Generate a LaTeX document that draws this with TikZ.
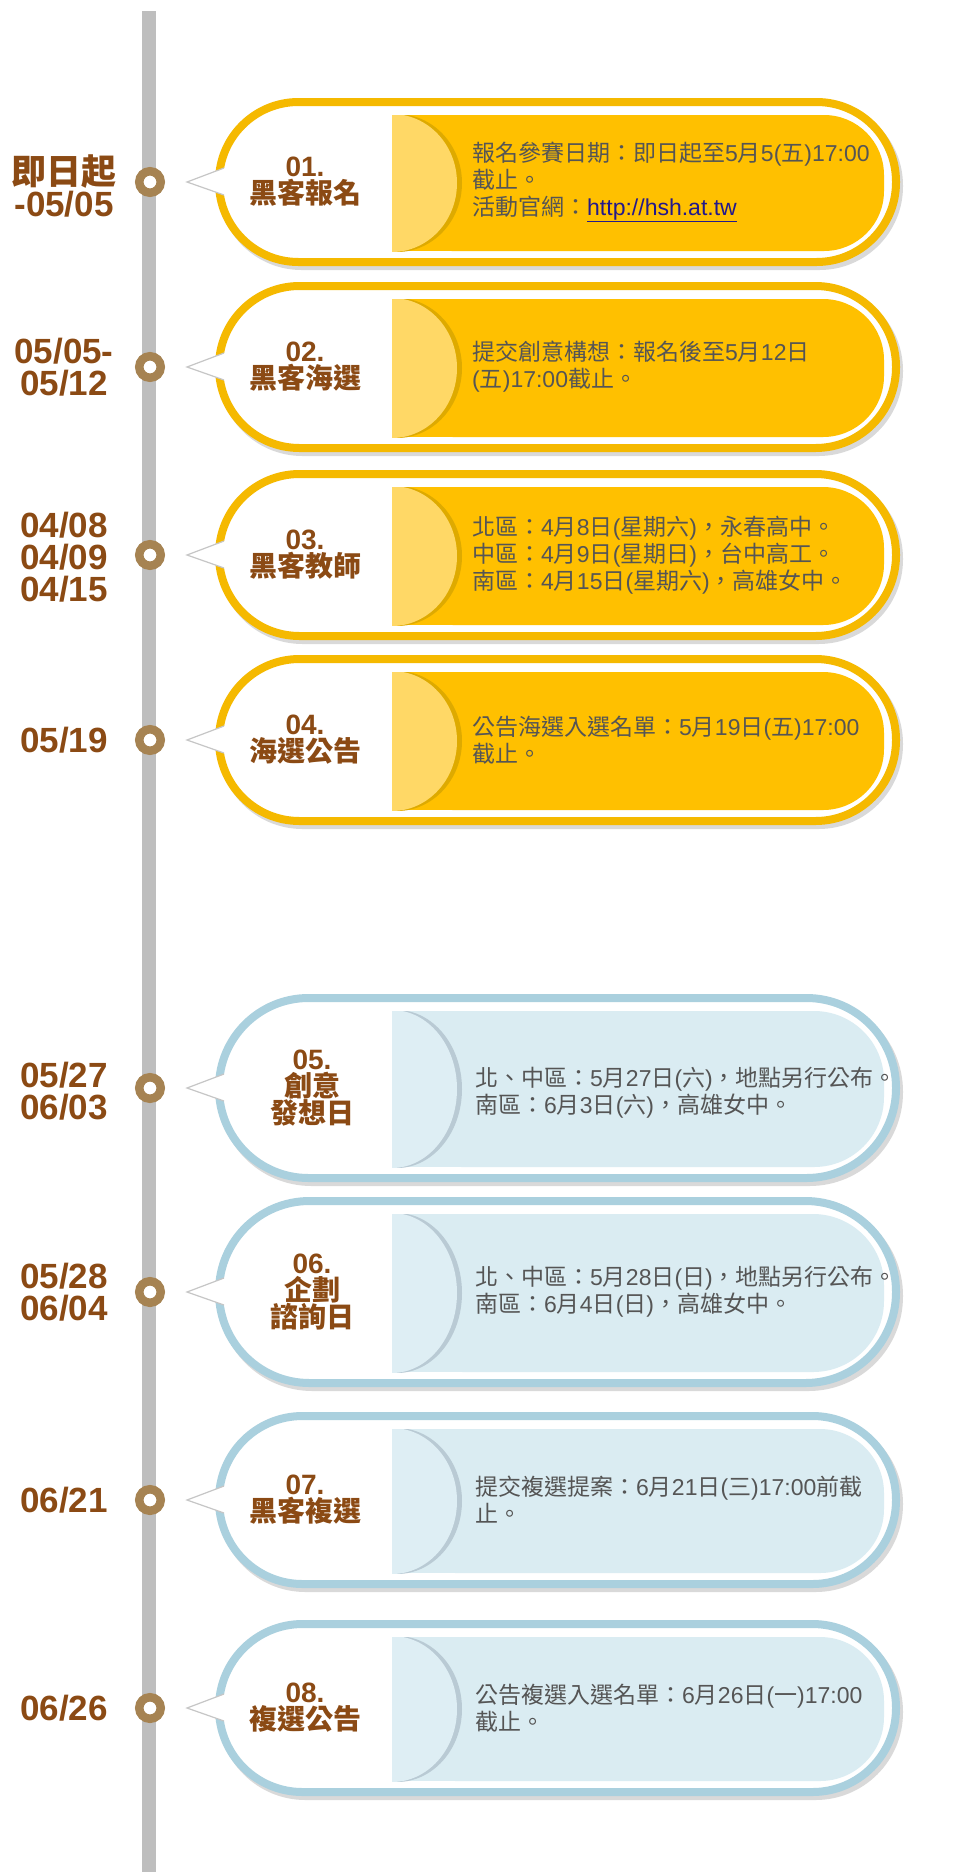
\documentclass[tikz,border=0pt]{standalone}
\usepackage{fontspec}
\setmainfont{Liberation Sans}
\newfontfamily\cjkfont{Noto Sans CJK TC}
\newfontfamily\latfont{Liberation Sans}
% switch to the CJK face for Han characters and full-width punctuation
\newXeTeXintercharclass\CJKclass
\newcount\cjkcode
\def\markcjk#1#2{\cjkcode=#1\relax
    \loop\ifnum\cjkcode<#2\relax
        \XeTeXcharclass\cjkcode=\CJKclass
        \advance\cjkcode by 1
    \repeat}
\markcjk{"3000}{"3040}
\markcjk{"4E00}{"A000}
\markcjk{"FF00}{"FF60}
\XeTeXinterchartokenstate=1
\XeTeXinterchartoks 0 \CJKclass = {\cjkfont}
\XeTeXinterchartoks 4095 \CJKclass = {\cjkfont}
\XeTeXinterchartoks \CJKclass 0 = {\latfont}
\XeTeXinterchartoks \CJKclass 4095 = {\latfont}
\usepackage{tikz}
\usetikzlibrary{positioning}
\definecolor{BarGray}{RGB}{190,190,190}
\definecolor{RingBrown}{RGB}{166,131,82}
\definecolor{LabelBrown}{RGB}{139,74,20}
\definecolor{DescGray}{RGB}{85,85,85}
\definecolor{LinkBlue}{RGB}{35,25,140}
\definecolor{GoldBand}{RGB}{245,185,0}
\definecolor{GoldFill}{RGB}{255,192,0}
\definecolor{GoldDisc}{RGB}{255,216,102}
\definecolor{GoldRim}{RGB}{222,170,0}
\definecolor{SkyBand}{RGB}{170,208,222}
\definecolor{SkyFill}{RGB}{218,236,242}
\definecolor{SkyDisc}{RGB}{222,238,244}
\definecolor{SkyRim}{RGB}{185,202,212}

\begin{document}
\begin{tikzpicture}[
        x=1pt, y=-1pt,
        datelbl/.style={align=center, inner sep=0pt, text=LabelBrown,
            font=\fontsize{35}{32}\selectfont\bfseries},
        titlelbl/.style={align=center, inner sep=0pt, text=LabelBrown,
            font=\fontsize{28}{27}\selectfont\bfseries},
        desctext/.style={anchor=west, align=left, inner sep=0pt, text=DescGray,
            font=\fontsize{23}{27}\selectfont},
    ]

    % Canvas
    \fill[white] (0,0) rectangle (954,1872);

    % Timeline bar
    \fill[BarGray] (142,11) rectangle (156,1872);

    % Bubbles: centre y / half height / colour theme
    \foreach \yc/\hh/\tone in {182/84/Gold, 367/85/Gold, 555/85/Gold, 740/85/Gold,
            1088/94/Sky, 1292/95/Sky, 1500/88/Sky, 1708/88/Sky} {
        \pgfmathsetmacro\bT{\yc-\hh+4}
        \pgfmathsetmacro\bB{\yc+\hh-4}
        \pgfmathsetmacro\fT{\yc-\hh+17}
        \pgfmathsetmacro\fB{\yc+\hh-15}
        \pgfmathsetmacro\rO{\hh-4.5}
        \pgfmathsetmacro\rI{\hh-24}
        \pgfmathsetmacro\dR{(\fB-\fT)/2+1}

        % shadow, band and white body
        \draw[black, opacity=0.15, line width=8pt, rounded corners=\rO pt] (222,\bT+4) rectangle (899,\bB+4);
        \draw[draw=\tone Band, fill=white, line width=8pt, rounded corners=\rO pt] (219,\bT) rectangle (896,\bB);

        % text panel
        \fill[fill=\tone Fill, rounded corners=\rI pt] (392,\fT) rectangle (884,\fB);
        \fill[fill=\tone Fill] (392,\fT) rectangle (480,\fB);

        % half disc with rim
        \begin{scope}
            \clip (392,\fT) rectangle (884,\fB);
            \fill[fill=\tone Rim] (397,\yc+1) ellipse [x radius=65pt, y radius=\dR pt];
            \fill[fill=\tone Disc] (392,\yc+1) ellipse [x radius=65pt, y radius=\dR pt];
        \end{scope}

        % pointer towards the timeline
        \fill[white] (230,\yc-16) -- (187,\yc) -- (230,\yc+15) -- cycle;
        \draw[gray!45, line width=1.2pt] (224,\yc-14) -- (187,\yc) -- (224,\yc+13);

        % ring on the bar
        \draw[RingBrown, line width=8.5pt, fill=white] (150,\yc) circle [radius=10.75pt];
    }

    % Dates
    \node[datelbl] (date1) at (64,186) {即日起\\-05/05};
    \node[datelbl] (date2) at (64,367) {05/05-\\05/12};
    \node[datelbl] (date3) at (64,557) {04/08\\04/09\\04/15};
    \node[datelbl] (date4) at (64,740) {05/19};
    \node[datelbl] (date5) at (64,1091) {05/27\\06/03};
    \node[datelbl] (date6) at (64,1292) {05/28\\06/04};
    \node[datelbl] (date7) at (64,1500) {06/21};
    \node[datelbl] (date8) at (64,1708) {06/26};

    % Stage titles
    \node[titlelbl] (title1) at (305,182) {01.\\黑客報名};
    \node[titlelbl] (title2) at (305,367) {02.\\黑客海選};
    \node[titlelbl] (title3) at (305,555) {03.\\黑客教師};
    \node[titlelbl] (title4) at (305,740) {04.\\海選公告};
    \node[titlelbl] (title5) at (312,1088) {05.\\創意\\發想日};
    \node[titlelbl] (title6) at (312,1292) {06.\\企劃\\諮詢日};
    \node[titlelbl] (title7) at (305,1500) {07.\\黑客複選};
    \node[titlelbl] (title8) at (305,1708) {08.\\複選公告};

    % Details
    \node[desctext] (desc1) at (472,182) {報名參賽日期：即日起至5月5(五)17:00\\截止。\\活動官網：{\color{LinkBlue}\underline{http://hsh.at.tw}}};
    \node[desctext] (desc2) at (472,367) {提交創意構想：報名後至5月12日\\(五)17:00截止。};
    \node[desctext] (desc3) at (472,555) {北區：4月8日(星期六)，永春高中。\\中區：4月9日(星期日)，台中高工。\\南區：4月15日(星期六)，高雄女中。};
    \node[desctext] (desc4) at (472,740) {公告海選入選名單：5月19日(五)17:00\\截止。};
    \node[desctext] (desc5) at (475,1093) {北、中區：5月27日(六)，地點另行公布。\\南區：6月3日(六)，高雄女中。};
    \node[desctext] (desc6) at (475,1292) {北、中區：5月28日(日)，地點另行公布。\\南區：6月4日(日)，高雄女中。};
    \node[desctext] (desc7) at (475,1500) {提交複選提案：6月21日(三)17:00前截\\止。};
    \node[desctext] (desc8) at (475,1708) {公告複選入選名單：6月26日(一)17:00\\截止。};
\end{tikzpicture}
\end{document}
